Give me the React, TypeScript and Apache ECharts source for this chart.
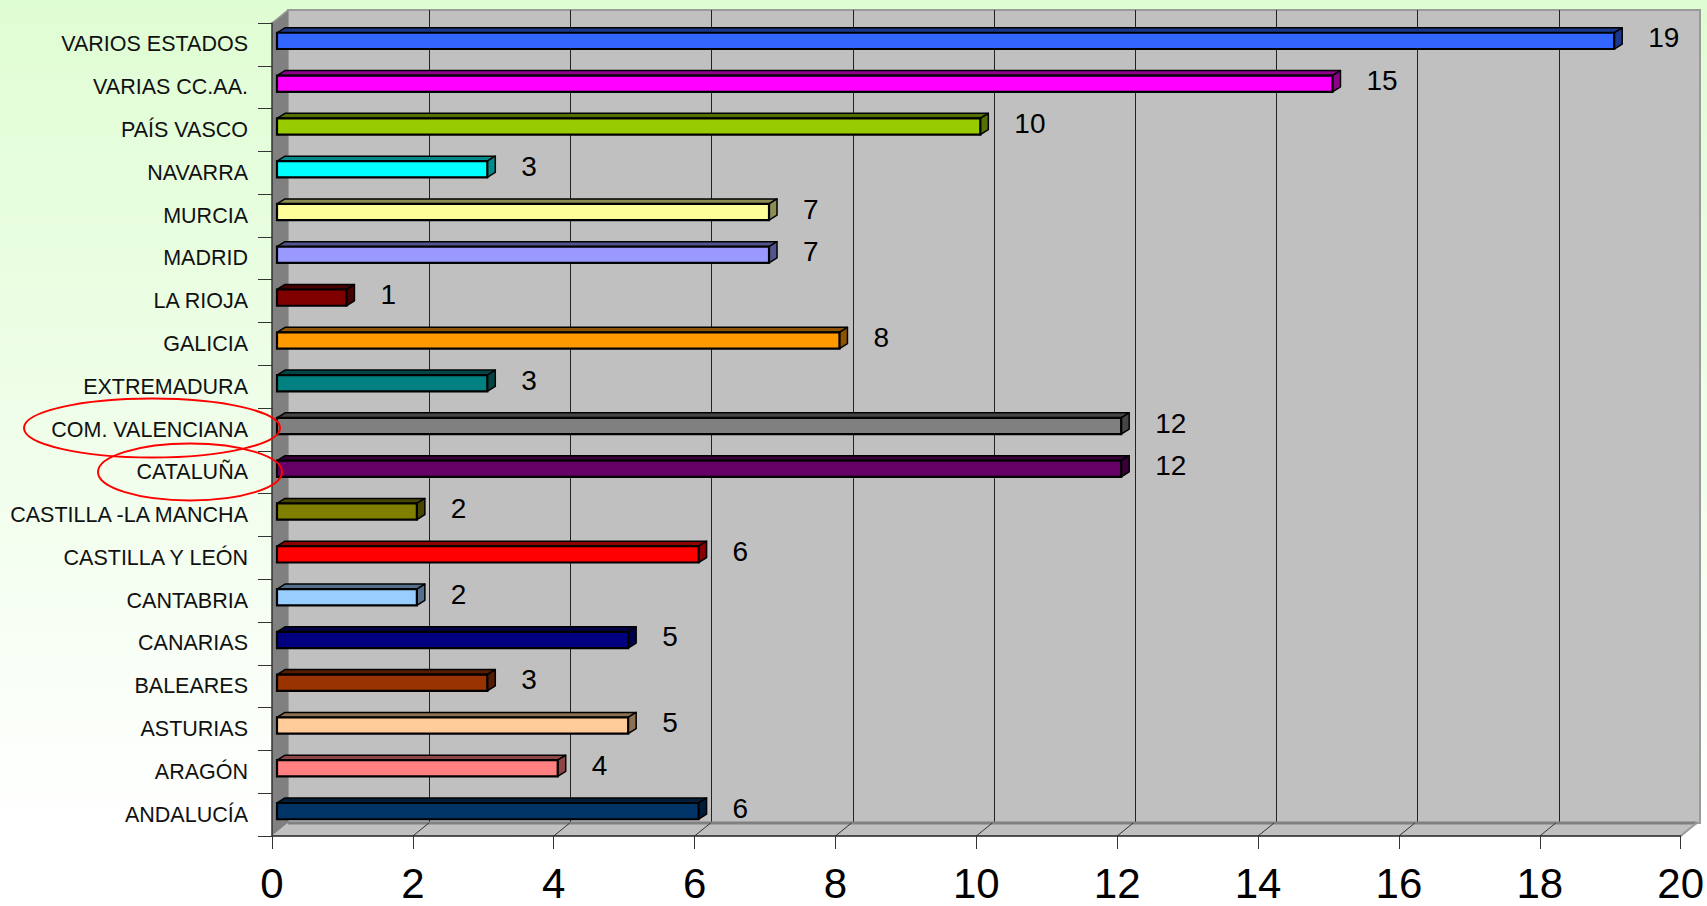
import React, { useEffect, useRef } from "react";
import * as echarts from "echarts";

// Categories listed bottom to top (ECharts category y-axis starts at the bottom)
const categories = [
  "ANDALUCÍA",
  "ARAGÓN",
  "ASTURIAS",
  "BALEARES",
  "CANARIAS",
  "CANTABRIA",
  "CASTILLA Y LEÓN",
  "CASTILLA -LA MANCHA",
  "CATALUÑA",
  "COM. VALENCIANA",
  "EXTREMADURA",
  "GALICIA",
  "LA RIOJA",
  "MADRID",
  "MURCIA",
  "NAVARRA",
  "PAÍS VASCO",
  "VARIAS CC.AA.",
  "VARIOS ESTADOS",
];

const values = [6, 4, 5, 3, 5, 2, 6, 2, 12, 12, 3, 8, 1, 7, 7, 3, 10, 15, 19];

const barColors = [
  "#003366",
  "#FF8080",
  "#FFCC99",
  "#993300",
  "#000080",
  "#99CCFF",
  "#FF0000",
  "#808000",
  "#660066",
  "#808080",
  "#008080",
  "#FF9900",
  "#800000",
  "#9999FF",
  "#FFFF99",
  "#00FFFF",
  "#99CC00",
  "#FF00FF",
  "#3366FF",
];

const xTicks = [0, 2, 4, 6, 8, 10, 12, 14, 16, 18, 20];
const X_MIN = 0;
const X_MAX = 20;
const X_INTERVAL = 2;

const FONT = "'Liberation Sans', Arial, sans-serif";

// 3D depth of the walls (oblique projection)
const DX = 16;
const DY = -13;

function shade(hex: string, f: number): string {
  const h = hex.replace("#", "");
  const r = Math.round(parseInt(h.slice(0, 2), 16) * f);
  const g = Math.round(parseInt(h.slice(2, 4), 16) * f);
  const b = Math.round(parseInt(h.slice(4, 6), 16) * f);
  return `rgb(${r},${g},${b})`;
}

export default function App() {
  const ref = useRef<HTMLDivElement>(null);

  useEffect(() => {
    if (!ref.current) return;
    const chart = echarts.init(ref.current, undefined, { renderer: "svg" });

    const frontGrid = { left: 272, top: 23, width: 1412, height: 813 };
    const backGrid = {
      left: frontGrid.left + DX,
      top: frontGrid.top + DY,
      width: frontGrid.width,
      height: frontGrid.height,
    };

    const barData = values.map((v, i) => [v, i]);

    const option: any = {
      animation: false,
      backgroundColor: {
        type: "linear",
        x: 0,
        y: 0,
        x2: 0,
        y2: 1,
        colorStops: [
          { offset: 0, color: "#DFFDD3" },
          { offset: 0.92, color: "#FFFFFF" },
          { offset: 1, color: "#FFFFFF" },
        ],
      },
      grid: [
        {
          ...frontGrid,
          containLabel: false,
        },
        {
          ...backGrid,
          show: true,
          backgroundColor: "#C0C0C0",
          borderColor: "#9A9A9A",
          borderWidth: 2,
          containLabel: false,
          z: -1,
        },
      ],
      xAxis: [
        {
          type: "value",
          gridIndex: 0,
          min: X_MIN,
          max: X_MAX,
          interval: X_INTERVAL,
          z: 10,
          axisLine: { show: true, lineStyle: { color: "#222", width: 1.5 } },
          axisTick: { show: true, length: 13, lineStyle: { color: "#333", width: 1 } },
          axisLabel: {
            show: true,
            fontSize: 42,
            fontFamily: FONT,
            color: "#000",
            margin: 26,
          },
          splitLine: { show: false },
        },
        {
          type: "value",
          gridIndex: 1,
          min: X_MIN,
          max: X_MAX,
          interval: X_INTERVAL,
          axisLine: { show: false },
          axisTick: { show: false },
          axisLabel: { show: false },
          splitLine: {
            show: true,
            showMinLine: false,
            showMaxLine: false,
            lineStyle: { color: "#222", width: 1 },
          },
        },
      ],
      yAxis: [
        {
          type: "category",
          gridIndex: 0,
          data: categories,
          z: 10,
          axisLine: { show: true, lineStyle: { color: "#333", width: 1.5 } },
          axisTick: { show: true, length: 14, lineStyle: { color: "#333", width: 1 } },
          axisLabel: {
            fontSize: 21.5,
            fontFamily: FONT,
            color: "#111",
            margin: 24,
          },
        },
        {
          type: "category",
          gridIndex: 1,
          data: categories,
          show: false,
        },
      ],
      series: [
        {
          type: "custom",
          name: "walls",
          xAxisIndex: 0,
          yAxisIndex: 0,
          z: 1,
          silent: true,
          data: [[0, 0]],
          renderItem: (params: any, api: any) => {
            const cs = params.coordSys;
            const L = cs.x;
            const T = cs.y;
            const R = cs.x + cs.width;
            const B = cs.y + cs.height;
            const children: any[] = [
              {
                type: "polygon",
                shape: { points: [[L, T], [L + DX, T + DY], [L + DX, B + DY], [L, B]] },
                style: { fill: "#808080" },
              },
              {
                type: "polygon",
                shape: { points: [[L, B], [L + DX, B + DY], [R + DX, B + DY], [R, B]] },
                style: { fill: "#C0C0C0" },
              },
              {
                type: "line",
                shape: { x1: L + DX, y1: B + DY, x2: R + DX, y2: B + DY },
                style: { stroke: "#808080", lineWidth: 3 },
              },
              {
                type: "line",
                shape: { x1: R, y1: B, x2: R + DX, y2: B + DY },
                style: { stroke: "#9A9A9A", lineWidth: 2 },
              },
              {
                type: "line",
                shape: { x1: L, y1: T, x2: L + DX, y2: T + DY },
                style: { stroke: "#9A9A9A", lineWidth: 1.5 },
              },
            ];
            xTicks.forEach((t) => {
              if (t === X_MIN || t === X_MAX) return;
              const x = api.coord([t, 0])[0];
              children.push({
                type: "line",
                shape: { x1: x, y1: B, x2: x + DX, y2: B + DY },
                style: { stroke: "#333", lineWidth: 1 },
              });
            });
            return { type: "group", children };
          },
        },
        {
          type: "custom",
          name: "bars",
          xAxisIndex: 0,
          yAxisIndex: 0,
          z: 5,
          data: barData,
          encode: { x: 0, y: 1 },
          renderItem: (params: any, api: any) => {
            const val = api.value(0);
            const idx = api.value(1);
            const start = api.coord([0, idx]);
            const end = api.coord([val, idx]);
            const band = api.size([0, 1])[1];
            const hb = band * 0.38;
            const ox = 5;
            const oy = -3.5;
            const bdx = 8;
            const bdy = -5;
            const xa = start[0] + ox;
            const xb = end[0] + ox - 1;
            const yc = start[1] + oy;
            const yt = yc - hb / 2;
            const yb = yc + hb / 2;
            const color = barColors[idx];
            const dark = shade(color, 0.55);
            return {
              type: "group",
              children: [
                {
                  type: "polygon",
                  shape: { points: [[xa, yt], [xa + bdx, yt + bdy], [xb + bdx, yt + bdy], [xb, yt]] },
                  style: { fill: dark, stroke: "#000", lineWidth: 1.5, lineJoin: "round" },
                },
                {
                  type: "polygon",
                  shape: { points: [[xb, yt], [xb + bdx, yt + bdy], [xb + bdx, yb + bdy], [xb, yb]] },
                  style: { fill: dark, stroke: "#000", lineWidth: 1.5, lineJoin: "round" },
                },
                {
                  type: "rect",
                  shape: { x: xa, y: yt, width: xb - xa, height: hb },
                  style: { fill: color, stroke: "#000", lineWidth: 2.2 },
                },
                {
                  type: "text",
                  x: xb + bdx + 26,
                  y: yc - 3,
                  style: {
                    text: String(val),
                    fontSize: 28,
                    fontFamily: FONT,
                    fill: "#000",
                    align: "left",
                    verticalAlign: "middle",
                  },
                },
              ],
            };
          },
        },
      ],
      graphic: [
        {
          type: "ellipse",
          z: 100,
          shape: { cx: 152, cy: 428, rx: 128, ry: 29.5 },
          style: { fill: "none", stroke: "#FF0000", lineWidth: 2 },
        },
        {
          type: "ellipse",
          z: 100,
          shape: { cx: 190, cy: 472, rx: 92, ry: 28.5 },
          style: { fill: "none", stroke: "#FF0000", lineWidth: 2 },
        },
      ],
    };

    chart.setOption(option);
    return () => {
      chart.dispose();
    };
  }, []);

  return (
    <div
      ref={ref}
      style={{ position: "absolute", left: 0, top: 0, width: "1707px", height: "906px" }}
    />
  );
}
